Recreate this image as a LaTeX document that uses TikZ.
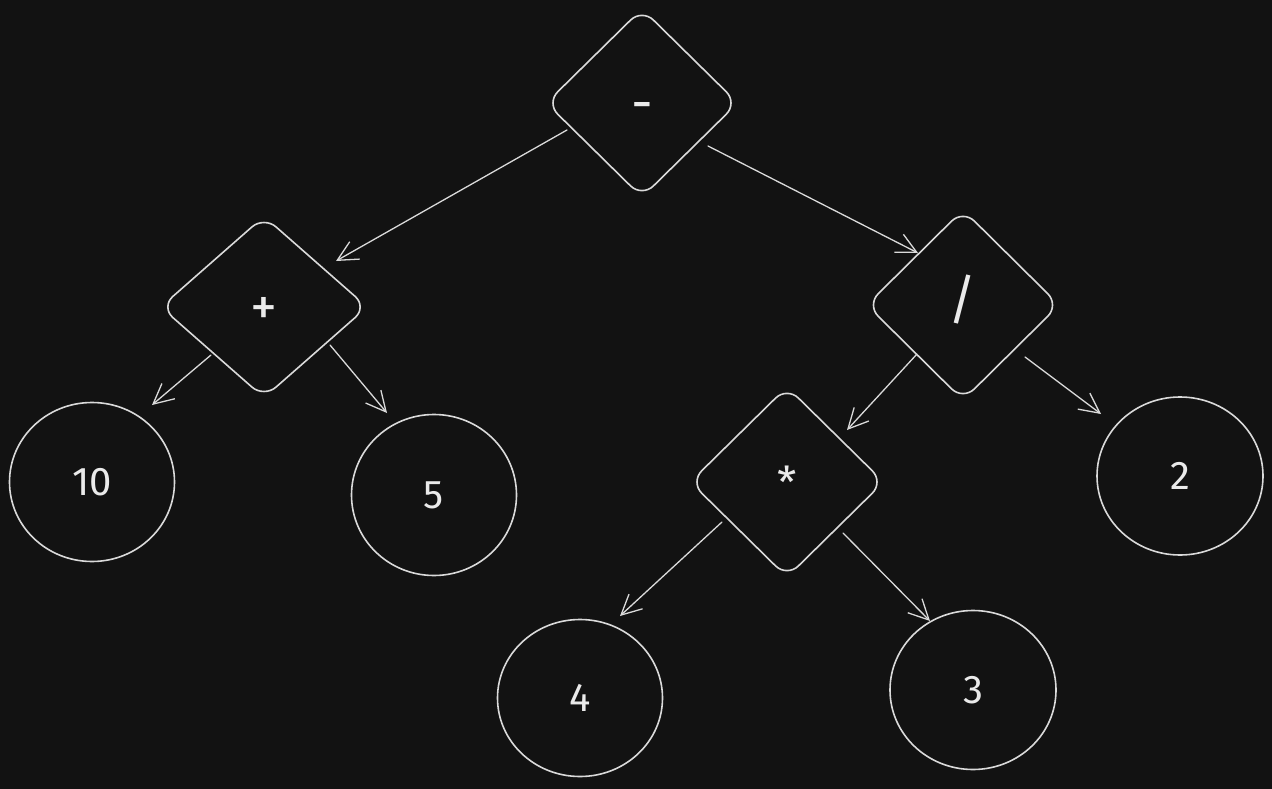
\documentclass[tikz,border=0pt]{standalone}
\usepackage{fontspec}
\setmainfont{Fira Sans}
\usetikzlibrary{shapes.geometric,arrows.meta}
\definecolor{bg}{HTML}{121212}
\definecolor{fg}{HTML}{DADADA}
\definecolor{tx}{HTML}{EAEAEA}
\tikzset{
  op/.style={diamond, draw=fg, line width=1.6pt, rounded corners=16pt, text=tx,
    font=\fontsize{54}{54}\selectfont, inner sep=0pt},
  leaf/.style={ellipse, draw=fg, line width=1.6pt, text=tx,
    font=\fontsize{40}{40}\selectfont, inner sep=0pt,
    minimum width=165pt, minimum height=159pt},
  arr/.style={draw=fg, line width=1.3pt, line cap=round,
    -{Straight Barb[length=20pt,width=20pt,line width=1.3pt]}}
}
\begin{document}
\begin{tikzpicture}[x=1pt,y=-1pt]
\fill[bg] (0,0) rectangle (1272,789);
\useasboundingbox (0,0) rectangle (1272,789);

\node[op, minimum width=192pt, minimum height=189pt] (minus) at (642,103) {\smash{\raisebox{-19pt}{-}}};
\node[op, minimum width=207pt, minimum height=182pt] (plus) at (264,307) {\smash{\raisebox{-18pt}{+}}};
\node[op, minimum width=193pt, minimum height=191pt] (slash) at (963,305) {\smash{\raisebox{-13pt}{/}}};
\node[op, minimum width=194pt, minimum height=191pt] (star) at (787,482) {\smash{\raisebox{-16pt}{\fontsize{44}{44}\selectfont *}}};

\node[leaf] (ten) at (92,482) {10};
\node[leaf, minimum height=161pt] (five) at (434,495) {5};
\node[leaf, minimum width=166pt, minimum height=158pt] (two) at (1180,476) {2};
\node[leaf, minimum width=165pt, minimum height=157pt] (four) at (580,698) {4};
\node[leaf, minimum width=166pt, minimum height=159pt] (three) at (973,690) {3};

\draw[arr] ([shift={(-75,27)}]minus.center) -- ([shift={(72,-46)}]plus.center);
\draw[arr] ([shift={(66,43)}]minus.center) -- ([shift={(-45,-52)}]slash.center);
\draw[arr] ([shift={(-53,48)}]plus.center) -- ([shift={(60,-77)}]ten.center);
\draw[arr] ([shift={(66,38)}]plus.center) -- ([shift={(-47,-82)}]five.center);
\draw[arr] ([shift={(-46,49)}]slash.center) -- ([shift={(60,-52)}]star.center);
\draw[arr] ([shift={(62,52)}]slash.center) -- ([shift={(-79,-62)}]two.center);
\draw[arr] ([shift={(-65,40)}]star.center) -- ([shift={(40,-82)}]four.center);
\draw[arr] ([shift={(56,51)}]star.center) -- ([shift={(-43,-69)}]three.center);
\end{tikzpicture}
\end{document}
